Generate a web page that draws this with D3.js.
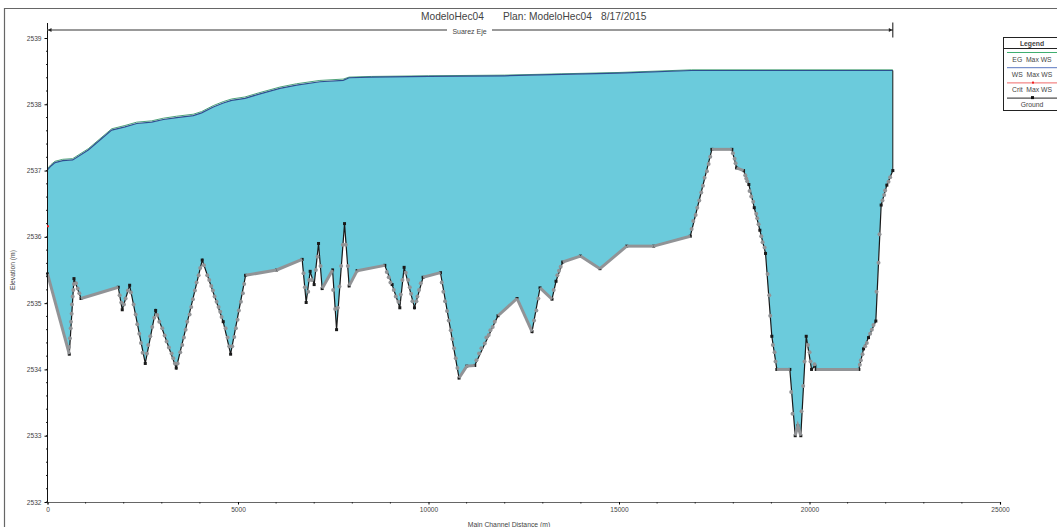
<!DOCTYPE html>
<html>
<head>
<meta charset="utf-8">
<script src="https://cdn.jsdelivr.net/npm/d3@7"></script>
<style>
  html, body { margin: 0; padding: 0; background: #fff; overflow: hidden; }
  text { font-family: "Liberation Sans", Arial, sans-serif; fill: #444; white-space: pre; }
</style>
</head>
<body>
<div id="chart"></div>
<script>
const groundDist = [0,572,695,879,1857,1962,2156,2566,2838,3379,4061,4612,4806,5199,6012,6684,6789,6894,6999,7114,7209,7482,7587,7796,7917,8127,8853,9045,9247,9360,9632,9858,10314,10802,11004,11214,11825,12324,12717,12927,13242,13347,13523,13987,14501,15202,15910,16871,17438,17962,18086,18269,18408,18550,18697,18846,19011,19143,19484,19625,19693,19772,19914,20054,20141,20176,21295,21418,21549,21741,21881,22030,22187];
const groundElev = [2535.44,2534.23,2535.37,2535.07,2535.24,2534.90,2535.27,2534.09,2534.89,2534.02,2535.65,2534.72,2534.23,2535.42,2535.50,2535.66,2535.01,2535.48,2535.28,2535.90,2535.22,2535.50,2534.60,2536.20,2535.26,2535.49,2535.57,2535.28,2534.93,2535.54,2534.93,2535.39,2535.46,2533.87,2534.05,2534.06,2534.81,2535.07,2534.57,2535.23,2535.06,2535.33,2535.62,2535.71,2535.52,2535.86,2535.86,2536.01,2537.32,2537.32,2537.04,2537.00,2536.79,2536.44,2536.10,2535.75,2534.50,2534.00,2534.00,2533.00,2533.15,2533.00,2534.50,2534.00,2534.05,2534.00,2534.00,2534.31,2534.48,2534.73,2536.48,2536.78,2537.00];

const wsDist = [0,90,197,400,660,1070,1377,1684,2033,2340,2733,3040,3390,3825,4045,4350,4612,4832,5181,5530,6099,6537,7148,7760,7917,8500,10000,12000,13500,15000,16900,22187];
const wsElev = [2537.01,2537.07,2537.12,2537.15,2537.16,2537.31,2537.46,2537.61,2537.66,2537.71,2537.73,2537.77,2537.80,2537.83,2537.87,2537.96,2538.02,2538.06,2538.09,2538.15,2538.24,2538.29,2538.34,2538.36,2538.40,2538.41,2538.42,2538.43,2538.45,2538.47,2538.51,2538.51];
const egElev = [2537.03,2537.09,2537.14,2537.17,2537.18,2537.33,2537.48,2537.63,2537.68,2537.73,2537.75,2537.79,2537.82,2537.85,2537.89,2537.98,2538.04,2538.08,2538.11,2538.17,2538.26,2538.31,2538.36,2538.38,2538.41,2538.42,2538.43,2538.44,2538.46,2538.48,2538.52,2538.52];

const critDist = [0];
const critElev = [2536.16];

// interpolated sections
const sectionDist = [564,590,608,616,634,643,660,678,695,748,791,835,1893,1937,2007,2050,2112,2190,2260,2313,2357,2409,2453,2496,2610,2645,2698,2750,2802,2881,2934,3012,3074,3126,3187,3257,3301,3345,3415,3484,3537,3581,3625,3668,3729,3773,3817,3869,3913,3966,4009,4105,4193,4245,4298,4341,4385,4438,4490,4534,4569,4674,4726,4770,4849,4901,4945,4988,5023,5076,5128,5163,6720,6755,6842,6869,6938,7043,7087,7166,7498,7550,7620,7664,7708,7752,7830,7883,8905,8957,9001,9088,9141,9211,9272,9316,9403,9465,9508,9543,9578,9683,9709,9753,9797,10348,10391,10435,10488,10531,10584,10627,10671,10715,10759,11257,11327,11388,11476,11519,11581,11624,11685,11738,12770,12831,12883,13286,13382,13426,13469,16906,16950,17011,17054,17107,17159,17203,17247,17308,17352,17395,17990,18034,18060,18314,18340,18366,18427,18471,18523,18602,18628,18663,18733,18768,18821,18899,18943,18969,19039,19083,19109,19520,19555,19791,19835,19870,19957,20001,20027,20132,21321,21348,21391,21461,21505,21592,21636,21680,21759,21811,21838,21916,21960,21986,22073,22117];
const sectionElev = [2534.34,2534.47,2534.62,2534.72,2534.84,2534.98,2535.10,2535.20,2535.29,2535.30,2535.22,2535.15,2535.12,2535.01,2534.98,2535.07,2535.19,2535.16,2534.98,2534.83,2534.68,2534.54,2534.40,2534.25,2534.24,2534.37,2534.50,2534.64,2534.78,2534.82,2534.72,2534.62,2534.51,2534.42,2534.33,2534.24,2534.17,2534.09,2534.09,2534.26,2534.37,2534.48,2534.60,2534.72,2534.83,2534.94,2535.06,2535.19,2535.31,2535.42,2535.53,2535.57,2535.42,2535.35,2535.26,2535.19,2535.10,2535.02,2534.94,2534.87,2534.79,2534.62,2534.48,2534.35,2534.35,2534.49,2534.62,2534.75,2534.89,2535.02,2535.15,2535.29,2535.45,2535.24,2535.17,2535.35,2535.35,2535.50,2535.70,2535.56,2535.20,2534.91,2534.93,2535.25,2535.56,2535.88,2535.88,2535.56,2535.47,2535.39,2535.31,2535.20,2535.10,2535.02,2535.13,2535.35,2535.46,2535.35,2535.24,2535.14,2535.03,2535.03,2535.10,2535.20,2535.30,2535.31,2535.17,2535.03,2534.88,2534.74,2534.59,2534.46,2534.32,2534.17,2534.02,2534.14,2534.24,2534.32,2534.39,2534.48,2534.52,2534.59,2534.64,2534.72,2534.74,2534.89,2535.07,2535.20,2535.42,2535.49,2535.55,2536.12,2536.24,2536.33,2536.44,2536.55,2536.67,2536.77,2536.89,2536.99,2537.10,2537.21,2537.26,2537.18,2537.11,2536.93,2536.88,2536.84,2536.69,2536.61,2536.53,2536.35,2536.28,2536.19,2536.01,2535.92,2535.84,2535.44,2535.12,2534.81,2534.37,2534.26,2534.12,2533.66,2533.33,2533.37,2533.75,2534.12,2534.37,2534.26,2534.12,2534.08,2534.07,2534.14,2534.23,2534.35,2534.40,2534.54,2534.60,2534.67,2535.17,2535.61,2536.04,2536.55,2536.63,2536.70,2536.83,2536.90];

// reaches so densely sectioned they read as a solid gray band
const denseFrom = [0,695,879,5199,6012,7209,7917,8127,9858,10802,11825,12324,12927,13523,13987,14501,15202,15910,17438,18086,19143,19625,20176];
const denseTo = [572,835,1857,6012,6684,7482,8127,8853,10314,11214,12324,12717,13242,13987,14501,15202,15910,16871,17962,18269,19484,19772,21295];

const xTicks = [0,5000,10000,15000,20000,25000];
const yTicks = [2532,2533,2534,2535,2536,2537,2538,2539];
const legendLabels = ['EG  Max WS','WS  Max WS','Crit  Max WS','Ground'];
const titleParts = ['ModeloHec04','Plan: ModeloHec04','8/17/2015'];
const reachName = 'Suarez Eje';

const width = 1057, height = 527;
const margin = {left: 47.5, right: 57, top: 38, bottom: 25};

const svg = d3.select('#chart').append('svg')
  .attr('width', width)
  .attr('height', height);

const x = d3.scaleLinear().domain([0, 25000]).range([margin.left, width - margin.right]);
const y = d3.scaleLinear().domain([2532, 2539]).range([height - margin.bottom, margin.top]);

const ground = groundDist.map((d, i) => [d, groundElev[i]]);
const ws = wsDist.map((d, i) => [d, wsElev[i]]);
const eg = wsDist.map((d, i) => [d, egElev[i]]);
const line = d3.line().x(d => x(d[0])).y(d => y(d[1]));

// outer frame, only top and left fall inside the shot
svg.append('path')
  .attr('d', `M4.5,${height} V8.5 H${width}`)
  .attr('fill', 'none')
  .attr('stroke', '#666')
  .attr('stroke-width', 1.2);

// water body
svg.append('path')
  .attr('d', line(ws.concat(ground.slice().reverse())) + 'Z')
  .attr('fill', '#6bcbdc');

// ground
svg.append('path')
  .attr('d', line(ground))
  .attr('fill', 'none')
  .attr('stroke', '#1a1a1a')
  .attr('stroke-width', 1.2);

svg.append('g').selectAll('rect')
  .data(ground)
  .join('rect')
  .attr('x', d => x(d[0]) - 1.5)
  .attr('y', d => y(d[1]) - 1.5)
  .attr('width', 3)
  .attr('height', 3)
  .attr('fill', '#1a1a1a');

denseFrom.forEach((from, i) => {
  svg.append('path')
    .attr('d', line(ground.filter(p => p[0] >= from && p[0] <= denseTo[i])))
    .attr('fill', 'none')
    .attr('stroke', '#919396')
    .attr('stroke-width', 3);
});

svg.append('g').selectAll('circle')
  .data(sectionDist)
  .join('circle')
  .attr('cx', d => x(d))
  .attr('cy', (d, i) => y(sectionElev[i]))
  .attr('r', 2)
  .attr('fill', '#919396');

// water lines
svg.append('path')
  .attr('d', line(eg))
  .attr('fill', 'none')
  .attr('stroke', '#4fa37a')
  .attr('stroke-width', 1);

svg.append('path')
  .attr('d', line(ws))
  .attr('fill', 'none')
  .attr('stroke', '#2c4f8f')
  .attr('stroke-width', 1.2);

// right bank wall
svg.append('path')
  .attr('d', line([ws[ws.length - 1], ground[ground.length - 1]]))
  .attr('stroke', '#1a1a1a')
  .attr('stroke-width', 1);

// axes
const xAxis = d3.axisBottom(x).tickValues(xTicks).tickSize(2.5).tickFormat(d3.format('d'));
const yAxis = d3.axisLeft(y).tickValues(yTicks).tickSize(3).tickFormat(d3.format('d'));

const xG = svg.append('g').attr('transform', `translate(0,${y(2532)})`).call(xAxis);
const yG = svg.append('g').attr('transform', `translate(${margin.left},0)`).call(yAxis);

xG.append('g').selectAll('line')
  .data(d3.range(0, 25000, 1000).filter(d => d % 5000 !== 0))
  .join('line')
  .attr('x1', d => x(d)).attr('x2', d => x(d))
  .attr('y2', 1.5)
  .attr('stroke', '#222');

yG.append('g').selectAll('line')
  .data(d3.range(2532, 2539, 0.2))
  .join('line')
  .attr('y1', d => y(d)).attr('y2', d => y(d))
  .attr('x2', -1.5)
  .attr('stroke', '#222');

xG.select('.domain').attr('stroke', '#666').attr('stroke-width', 1.2);
yG.select('.domain').remove();
svg.append('line')
  .attr('x1', margin.left).attr('x2', margin.left)
  .attr('y1', 23).attr('y2', y(2532))
  .attr('stroke', '#111')
  .attr('stroke-width', 1);

svg.selectAll('.tick text')
  .style('font-family', '"Liberation Sans", Arial, sans-serif')
  .style('font-size', '6.6px')
  .style('fill', '#444');
xG.selectAll('.tick text').attr('y', 5);

// crit marker
svg.append('g').selectAll('rect')
  .data(critDist)
  .join('rect')
  .attr('x', d => x(d) - 0.5)
  .attr('y', (d, i) => y(critElev[i]) - 1)
  .attr('width', 2)
  .attr('height', 2)
  .attr('fill', '#f02020');

// reach arrow across the top
const reachY = 30;
const xEnd = x(groundDist[groundDist.length - 1]);
svg.append('path')
  .attr('d', `M${margin.left},${reachY} H${xEnd}`)
  .attr('stroke', '#777')
  .attr('stroke-width', 1.4);
svg.append('line')
  .attr('x1', xEnd).attr('x2', xEnd)
  .attr('y1', 22.5).attr('y2', 37.5)
  .attr('stroke', '#111');
svg.append('path')
  .attr('d', `M${margin.left + 0.5},${reachY} l3.5,-2 v4 Z M${xEnd - 0.5},${reachY} l-3.5,-2 v4 Z`)
  .attr('fill', '#222');
svg.append('rect')
  .attr('x', 447).attr('y', 26)
  .attr('width', 45).attr('height', 8)
  .attr('fill', '#fff');
svg.append('text')
  .attr('x', 469.5).attr('y', 33.5)
  .attr('text-anchor', 'middle')
  .style('font-size', '7px')
  .text(reachName);

// title
const titleX = [421, 503, 601];
titleParts.forEach((t, i) => {
  svg.append('text')
    .attr('x', titleX[i]).attr('y', 19.5)
    .style('font-size', '10.2px')
    .text(t);
});

// axis titles
svg.append('text')
  .attr('x', 509).attr('y', 527)
  .attr('text-anchor', 'middle')
  .style('font-size', '6.8px')
  .text('Main Channel Distance (m)');

svg.append('text')
  .attr('transform', 'translate(14.5,270) rotate(-90)')
  .attr('text-anchor', 'middle')
  .style('font-size', '6.8px')
  .text('Elevation (m)');

// legend
const legend = svg.append('g');
legend.append('rect')
  .attr('x', 1003.5).attr('y', 37.5)
  .attr('width', 60).attr('height', 73)
  .attr('fill', '#fff')
  .attr('stroke', '#222');
legend.append('line')
  .attr('x1', 1003.5).attr('x2', width)
  .attr('y1', 48.5).attr('y2', 48.5)
  .attr('stroke', '#222');
legend.append('text')
  .attr('x', 1032).attr('y', 45.5)
  .attr('text-anchor', 'middle')
  .style('font-size', '6.8px')
  .style('font-weight', 'bold')
  .text('Legend');

const legendColors = ['#3fae70', '#5b78c0', '#f06a6a', '#222'];
legendLabels.forEach((label, i) => {
  const lineY = 52.5 + i * 15.2;
  legend.append('line')
    .attr('x1', 1007).attr('x2', width)
    .attr('y1', lineY).attr('y2', lineY)
    .attr('stroke', legendColors[i])
    .attr('stroke-width', 1);
  legend.append('text')
    .attr('x', 1032).attr('y', lineY + 9)
    .attr('text-anchor', 'middle')
    .style('font-size', '6.8px')
    .text(label);
});
legend.append('rect')
  .attr('x', 1032).attr('y', 81.6)
  .attr('width', 2).attr('height', 2)
  .attr('fill', '#f02020');
legend.append('rect')
  .attr('x', 1031).attr('y', 96.1)
  .attr('width', 3).attr('height', 3)
  .attr('fill', '#111');
</script>
</body>
</html>
